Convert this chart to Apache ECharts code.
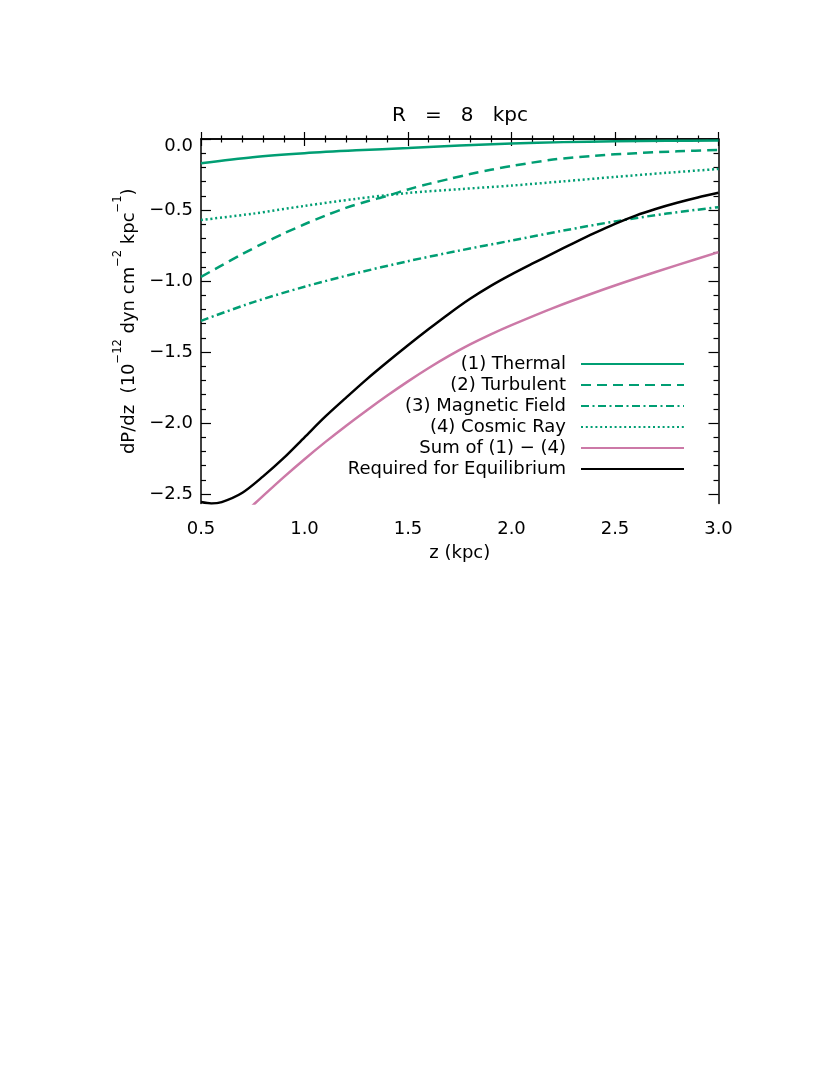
<!DOCTYPE html>
<html>
<head>
<meta charset="utf-8">
<title>R = 8 kpc</title>
<script src="https://cdn.jsdelivr.net/npm/echarts@6/dist/echarts.min.js"></script>
<style>
  html, body { margin: 0; padding: 0; background: #fff; }
  #main { width: 830px; height: 1075px; }
</style>
</head>
<body>
<div id="main"></div>
<script>
// z grid (kpc) and pressure gradients (1e-12 dyn cm^-2 kpc^-1)
var zCoarse = [0.5, 0.75, 1.0, 1.25, 1.5, 1.75, 2.0, 2.25, 2.5, 2.75, 3.0];
var thermal = [-0.171, -0.128, -0.100, -0.080, -0.064, -0.046, -0.031, -0.022, -0.016, -0.013, -0.011];
var magnetic = [-1.28, -1.15, -1.04, -0.945, -0.86, -0.785, -0.715, -0.645, -0.58, -0.525, -0.48];
var cosmicRay = [-0.57, -0.526, -0.471, -0.421, -0.38, -0.353, -0.328, -0.298, -0.267, -0.238, -0.211];

var zTurb = [0.5, 0.6, 0.7, 0.8, 0.9, 1.0, 1.1, 1.2, 1.3, 1.4, 1.5, 1.6, 1.7, 1.8, 1.9, 2.0, 2.2, 2.4, 2.6, 2.8, 3.0];
var turbulent = [-0.97, -0.89, -0.81, -0.735, -0.665, -0.60, -0.54, -0.485, -0.44, -0.40, -0.355, -0.316, -0.281, -0.247, -0.217, -0.19, -0.145, -0.118, -0.100, -0.087, -0.077];

var zSum = [0.7, 0.76, 0.8, 0.9, 1.0, 1.1, 1.2, 1.3, 1.4, 1.5, 1.6, 1.7, 1.8, 1.9, 2.0, 2.2, 2.4, 2.6, 2.8, 3.0];
var sumOf = [-2.65, -2.566, -2.512, -2.38, -2.254, -2.134, -2.02, -1.911, -1.806, -1.706, -1.612, -1.525, -1.446, -1.375, -1.31, -1.19, -1.082, -0.982, -0.888, -0.796];

var zReq = [0.5, 0.55, 0.6, 0.7, 0.8, 0.9, 1.0, 1.1, 1.2, 1.3, 1.4, 1.5, 1.6, 1.7, 1.8, 1.9, 2.0, 2.1, 2.2, 2.3, 2.4, 2.5, 2.6, 2.7, 2.8, 2.9, 3.0];
var required = [-2.556, -2.566, -2.556, -2.49, -2.375, -2.245, -2.10, -1.955, -1.822, -1.692, -1.57, -1.452, -1.338, -1.228, -1.125, -1.034, -0.953, -0.878, -0.805, -0.733, -0.663, -0.597, -0.539, -0.491, -0.449, -0.412, -0.379];

var seriesNames = ['(1) Thermal', '(2) Turbulent', '(3) Magnetic Field', '(4) Cosmic Ray', 'Sum of (1) \u2212 (4)', 'Required for Equilibrium'];

// axis ticks
var yMin = -2.566, yMax = 0.0;
var yMajor = [-2.5, -2.0, -1.5, -1.0, -0.5, 0.0];
var yMinor = [];
for (var v = -25; v <= 0; v++) {
    if (v % 5 !== 0) yMinor.push(v / 10);
}

var GREEN = '#009E73';
var PINK = '#CC79A7';
var FONT = 'DejaVu Sans';

function pairs(xs, ys) {
    var out = [];
    for (var i = 0; i < xs.length; i++) out.push([xs[i], ys[i]]);
    return out;
}

function mkLine(name, xs, ys, color, type) {
    return {
        name: name,
        type: 'line',
        data: pairs(xs, ys),
        xAxisIndex: 0,
        yAxisIndex: 0,
        symbol: 'none',
        smooth: 0.3,
        clip: true,
        lineStyle: { color: color, width: 2.5, type: type, cap: 'butt' },
        itemStyle: { color: color },
        emphasis: { disabled: true }
    };
}

function fmt(v) {
    var s = Number(v).toFixed(1).replace('-', '\u2212');
    if (s === '\u22120.0') s = '0.0';
    return s;
}

var axisLine = { show: true, lineStyle: { color: '#000', width: 1.5 } };

var myChart = echarts.init(document.getElementById('main'), null, { renderer: 'canvas' });

myChart.setOption({
    animation: false,
    backgroundColor: '#fff',
    title: {
        text: 'R   =   8   kpc',
        left: 455,
        top: 101,
        textAlign: 'center',
        textStyle: { fontFamily: FONT, fontSize: 20, fontWeight: 'normal', color: '#000' }
    },
    grid: { left: 201, top: 139, width: 517.5, height: 364.5 },
    legend: {
        data: seriesNames,
        orient: 'vertical',
        align: 'right',
        right: 140,
        top: 350,
        itemWidth: 103,
        itemHeight: 14,
        itemGap: 3,
        selectedMode: false,
        itemStyle: { opacity: 0 },
        textStyle: { fontFamily: FONT, fontSize: 18, color: '#000', padding: [0, 10, 0, 0] }
    },
    xAxis: [
        {
            type: 'value', position: 'bottom', min: 0.5, max: 3.0, interval: 0.5,
            axisLine: axisLine,
            axisTick: { inside: true, length: 7, lineStyle: { color: '#000', width: 1.2 } },
            minorTick: { show: true, splitNumber: 5, length: 3.5, lineStyle: { color: '#000', width: 1.2 } },
            splitLine: { show: false },
            axisLabel: { margin: 17, fontFamily: FONT, fontSize: 18, color: '#000', formatter: fmt },
            name: 'z (kpc)',
            nameLocation: 'middle',
            nameGap: 41,
            nameTextStyle: { fontFamily: FONT, fontSize: 18, color: '#000' }
        },
        {
            type: 'value', position: 'top', min: 0.5, max: 3.0, interval: 0.5,
            axisLine: axisLine,
            axisTick: { inside: true, length: 7, lineStyle: { color: '#000', width: 1.2 } },
            minorTick: { show: true, splitNumber: 5, length: 3.5, lineStyle: { color: '#000', width: 1.2 } },
            splitLine: { show: false },
            axisLabel: { show: false }
        }
    ],
    yAxis: [
        {
            type: 'value', position: 'left', min: yMin, max: yMax,
            axisLine: axisLine,
            axisTick: { inside: true, length: 10, customValues: yMajor, lineStyle: { color: '#000', width: 1.2 } },
            splitLine: { show: false },
            axisLabel: {
                customValues: yMajor, margin: 8, fontFamily: FONT, fontSize: 18, color: '#000',
                formatter: function (v) {
                    return v === 0 ? '{top|' + fmt(v) + '}' : fmt(v);
                },
                rich: { top: { fontFamily: FONT, fontSize: 18, color: '#000', padding: [14, 0, 0, 0] } }
            },
            name: '{n|dP/dz  (10}{s|\u221212}{n| dyn cm}{s|\u22122}{n| kpc}{s|\u22121}{n|)}',
            nameLocation: 'middle',
            nameRotate: 90,
            nameGap: 50,
            nameTextStyle: {
                fontFamily: FONT, fontSize: 18, color: '#000',
                rich: {
                    n: { fontFamily: FONT, fontSize: 18, color: '#000', lineHeight: 26, verticalAlign: 'bottom' },
                    s: { fontFamily: FONT, fontSize: 11.5, color: '#000', lineHeight: 15, verticalAlign: 'top' }
                }
            }
        },
        {
            type: 'value', position: 'left', min: yMin, max: yMax,
            axisLine: { show: false },
            axisTick: { inside: true, length: 5, customValues: yMinor, lineStyle: { color: '#000', width: 1.2 } },
            splitLine: { show: false },
            axisLabel: { show: false }
        },
        {
            type: 'value', position: 'right', min: yMin, max: yMax,
            axisLine: axisLine,
            axisTick: { inside: true, length: 10, customValues: yMajor, lineStyle: { color: '#000', width: 1.2 } },
            splitLine: { show: false },
            axisLabel: { show: false }
        },
        {
            type: 'value', position: 'right', min: yMin, max: yMax,
            axisLine: { show: false },
            axisTick: { inside: true, length: 5, customValues: yMinor, lineStyle: { color: '#000', width: 1.2 } },
            splitLine: { show: false },
            axisLabel: { show: false }
        }
    ],
    series: [
        mkLine(seriesNames[0], zCoarse, thermal, GREEN, 'solid'),
        mkLine(seriesNames[1], zTurb, turbulent, GREEN, [10, 6]),
        mkLine(seriesNames[2], zCoarse, magnetic, GREEN, [8, 3.5, 2, 3.5]),
        mkLine(seriesNames[3], zCoarse, cosmicRay, GREEN, [2, 2.8]),
        mkLine(seriesNames[4], zSum, sumOf, PINK, 'solid'),
        mkLine(seriesNames[5], zReq, required, '#000', 'solid')
    ]
});
</script>
</body>
</html>
